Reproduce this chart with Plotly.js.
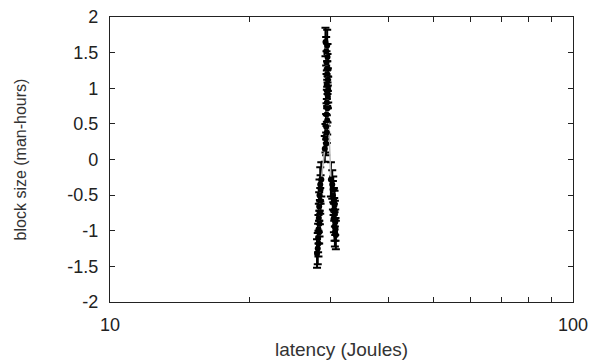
<!DOCTYPE html>
<html>
<head>
<meta charset="utf-8">
<script src="https://cdn.plot.ly/plotly-3.0.1.min.js"></script>
<style>html,body{margin:0;padding:0;background:#fff;}#chart{width:593px;height:360px;}</style>
</head>
<body>
<div id="chart"></div>
<script>
// latency (Joules), block size (man-hours), error
var latency = [28.0, 28.1, 28.2, 28.15, 28.3, 28.2, 28.35, 28.25, 28.4, 28.3, 28.45, 28.35, 28.5, 28.45, 28.6,
               29.1, 29.3, 29.2, 29.4, 29.3, 29.45, 29.35, 29.5, 29.4, 29.55, 29.45, 29.5, 29.6, 29.4, 29.55, 29.45, 29.5, 29.35, 29.5, 29.3, 29.45, 29.2,
               30.0, 30.2, 30.35, 30.3, 30.45, 30.4, 30.55, 30.5, 30.6, 30.45, 30.65, 30.55, 30.7, 30.6, 30.75];
var blockSize = [-1.32, -1.25, -1.18, -1.1, -1.02, -0.98, -0.9, -0.82, -0.74, -0.66, -0.58, -0.5, -0.42, -0.35, -0.28,
                 0.15, 0.22, 0.3, 0.38, 0.46, 0.55, 0.63, 0.72, 0.8, 0.88, 0.92, 0.95, 0.98, 1.05, 1.12, 1.2, 1.28, 1.36, 1.44, 1.52, 1.6, 1.65,
                 -0.28, -0.35, -0.42, -0.5, -0.56, -0.6, -0.64, -0.7, -0.76, -0.82, -0.88, -0.94, -0.98, -1.02, -1.06];
var errSize = [0.2, 0.22, 0.18, 0.2, 0.16, 0.2, 0.18, 0.2, 0.17, 0.2, 0.18, 0.22, 0.2, 0.24, 0.24,
               0.18, 0.16, 0.2, 0.15, 0.18, 0.2, 0.16, 0.2, 0.18, 0.16, 0.2, 0.22, 0.18, 0.2, 0.16, 0.18, 0.2, 0.16, 0.18, 0.2, 0.22, 0.2,
               0.24, 0.2, 0.18, 0.2, 0.16, 0.18, 0.2, 0.16, 0.18, 0.2, 0.18, 0.2, 0.16, 0.2, 0.2];
var xTickVals = [10, 20, 30, 40, 50, 60, 70, 80, 90, 100];
var xTickText = ['10', '', '', '', '', '', '', '', '', '100'];
var yTickVals = [-2, -1.5, -1, -0.5, 0, 0.5, 1, 1.5, 2];
var yTickText = ['-2', '-1.5', '-1', '-0.5', '0', '0.5', '1', '1.5', '2'];

var trace = {
  x: latency, y: blockSize, type: 'scatter', mode: 'lines+markers',
  line: {color: '#b8b8b8', width: 1.5},
  marker: {color: '#000', size: 6},
  error_y: {type: 'data', array: errSize, visible: true, color: '#000', thickness: 2, width: 4},
  showlegend: false
};
var fam = 'Liberation Sans, Arial, sans-serif';
var layout = {
  width: 593, height: 360,
  margin: {l: 110, r: 20, t: 17, b: 58, pad: 0},
  paper_bgcolor: '#fff', plot_bgcolor: '#fff',
  font: {family: fam, color: '#222'},
  xaxis: {
    type: 'log', range: [1, 2], tickvals: xTickVals, ticktext: xTickText,
    ticks: 'inside', ticklen: 5, tickcolor: '#222', mirror: 'ticks',
    showline: true, linecolor: '#222', linewidth: 1.2, showgrid: false, zeroline: false,
    tickfont: {family: fam, size: 18, color: '#222'}, ticklabelstandoff: 6,
    title: {text: 'latency (Joules)', font: {family: fam, size: 19, color: '#333'}, standoff: 10}
  },
  yaxis: {
    range: [-2, 2], tickvals: yTickVals, ticktext: yTickText,
    ticks: 'inside', ticklen: 5, tickcolor: '#222', mirror: 'ticks',
    showline: true, linecolor: '#222', linewidth: 1.2, showgrid: false, zeroline: false,
    tickfont: {family: fam, size: 18, color: '#222'}, ticklabelstandoff: 7,
    title: {text: 'block size (man-hours)', font: {family: fam, size: 16, color: '#333'}, standoff: 36}
  }
};
Plotly.newPlot('chart', [trace], layout, {displayModeBar: false, staticPlot: true});
</script>
</body>
</html>
